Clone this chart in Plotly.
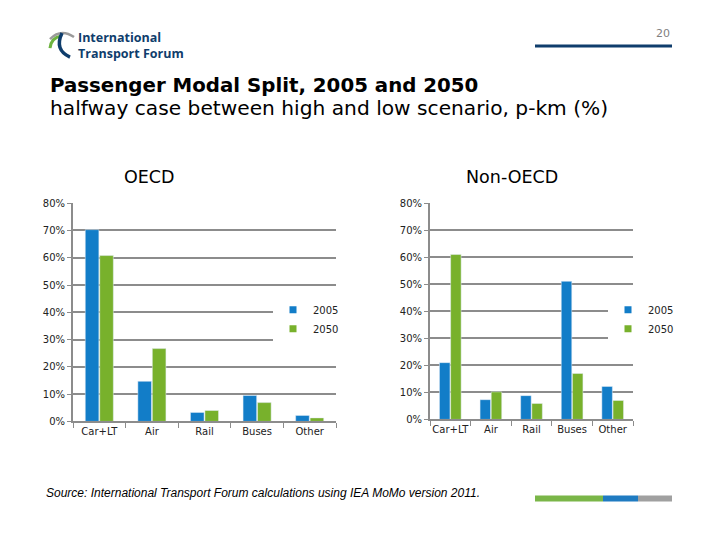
import plotly.graph_objects as go

# ---- data ----
categories = ["Car+LT", "Air", "Rail", "Buses", "Other"]
oecd_2005 = [0.703, 0.147, 0.033, 0.095, 0.022]
oecd_2050 = [0.608, 0.267, 0.040, 0.069, 0.013]
non_oecd_2005 = [0.210, 0.073, 0.088, 0.511, 0.122]
non_oecd_2050 = [0.610, 0.102, 0.059, 0.170, 0.070]
series_names = ["2005", "2050"]
y_ticks = [0, 0.1, 0.2, 0.3, 0.4, 0.5, 0.6, 0.7, 0.8]

BLUE = "#127DC8"
GREEN = "#78B12C"
GRID = "#8C8C8C"
NAVY = "#0F3D6C"
OFF = 8                      # page body margin
W, H = 720 - 2 * OFF, 540 - 2 * OFF
FONT = "DejaVu Sans"
Y0, YS = 13.0, 0.978         # observed vertical placement of the page


def fx(x):
    return (x - OFF) / W


def fy(y):
    return 1 - ((y - Y0) / YS) / H


def px(x, y):
    return fx(x), fy(y)


def path(points, cmd="Q"):
    pts = [px(*p) for p in points]
    return f"M {pts[0][0]:.5f},{pts[0][1]:.5f} {cmd} " + " ".join(f"{a:.5f},{b:.5f}" for a, b in pts[1:])


fig = go.Figure()

fig.add_trace(go.Bar(x=categories, y=oecd_2005, name=series_names[0], marker_color=BLUE,
                     xaxis="x", yaxis="y", showlegend=False))
fig.add_trace(go.Bar(x=categories, y=oecd_2050, name=series_names[1], marker_color=GREEN,
                     xaxis="x", yaxis="y", showlegend=False))
fig.add_trace(go.Bar(x=categories, y=non_oecd_2005, name=series_names[0], marker_color=BLUE,
                     xaxis="x2", yaxis="y2", showlegend=False))
fig.add_trace(go.Bar(x=categories, y=non_oecd_2050, name=series_names[1], marker_color=GREEN,
                     xaxis="x2", yaxis="y2", showlegend=False))

for leg, xa, ya in (("legend", "x", "y"), ("legend2", "x2", "y2")):
    for name, col in zip(series_names, [BLUE, GREEN]):
        fig.add_trace(go.Scatter(x=[None], y=[None], mode="markers", name=name,
                                 marker=dict(symbol="square", size=7, color=col),
                                 xaxis=xa, yaxis=ya, legend=leg, showlegend=True))

axis_common = dict(showgrid=False, showline=True, linecolor=GRID, linewidth=2,
                   ticks="outside", tickcolor=GRID, ticklen=5, tickwidth=1, tickangle=0,
                   tickfont=dict(family=FONT, size=10, color="#222"), fixedrange=True)
yaxis_common = dict(range=[0, 0.8], tickvals=y_ticks, tickformat=".0%", showgrid=True,
                    gridcolor=GRID, gridwidth=2, showline=True, linecolor=GRID, linewidth=2,
                    ticks="outside", tickcolor=GRID, ticklen=4, zeroline=False,
                    tickfont=dict(family=FONT, size=10, color="#222"), fixedrange=True)

legend_common = dict(xanchor="left", yanchor="top", bgcolor="white",
                     font=dict(family=FONT, size=10, color="#222"), borderwidth=0,
                     itemwidth=30, tracegroupgap=0)

fig.update_layout(
    width=W, height=H, autosize=False,
    margin=dict(l=0, r=0, t=0, b=0),
    paper_bgcolor="white", plot_bgcolor="white",
    barmode="group", bargap=0.45, bargroupgap=0.06,
    font=dict(family=FONT, color="#000"),
    xaxis=dict(domain=[fx(73), fx(336)], anchor="y", tickson="boundaries", **axis_common),
    yaxis=dict(domain=[fy(421), fy(203)], anchor="x", **yaxis_common),
    xaxis2=dict(domain=[fx(430), fx(633)], anchor="y2", tickson="boundaries", **axis_common),
    yaxis2=dict(domain=[fy(419), fy(203)], anchor="x2", **yaxis_common),
    legend=dict(x=fx(273), y=fy(295), **legend_common),
    legend2=dict(x=fx(608), y=fy(295), **legend_common),
    showlegend=True,
)

ann = []
ann.append(dict(text="20", x=fx(672), y=fy(33), xanchor="right", yanchor="middle",
                font=dict(family=FONT, size=11, color="#7F7F7F")))
ann.append(dict(text="<b>International<br>Transport Forum</b>", x=fx(76), y=fy(45),
                xanchor="left", yanchor="middle", align="left",
                font=dict(family="Open Sans", size=12.5, color=NAVY)))
ann.append(dict(text="<b>Passenger Modal Split, 2005 and 2050</b>", x=fx(48), y=fy(85),
                xanchor="left", yanchor="middle", font=dict(family=FONT, size=19.8, color="#000")))
ann.append(dict(text="halfway case between high and low scenario, p-km (%)", x=fx(48), y=fy(108),
                xanchor="left", yanchor="middle", font=dict(family=FONT, size=20.2, color="#000")))
ann.append(dict(text="OECD", x=fx(149), y=fy(177), xanchor="center", yanchor="middle",
                font=dict(family=FONT, size=17.5, color="#000")))
ann.append(dict(text="Non-OECD", x=fx(512), y=fy(177), xanchor="center", yanchor="middle",
                font=dict(family=FONT, size=17.5, color="#000")))
ann.append(dict(text="<i>Source: International Transport Forum calculations using IEA MoMo version 2011.</i>",
                x=fx(44), y=fy(493), xanchor="left", yanchor="middle",
                font=dict(family="Liberation Sans", size=12, color="#000")))
for a in ann:
    a.update(xref="paper", yref="paper", showarrow=False)
fig.update_layout(annotations=ann)

shapes = []
shapes.append(dict(type="line", x0=fx(535), y0=fy(46), x1=fx(672), y1=fy(46),
                   line=dict(color=NAVY, width=3)))
for (a, b, c) in ((535, 603, "#7AB648"), (603, 638, "#1F7BC1"), (638, 672, "#A0A0A0")):
    shapes.append(dict(type="rect", x0=fx(a), y0=fy(495), x1=fx(b), y1=fy(501),
                       line=dict(width=0), fillcolor=c))
shapes.append(dict(type="path", path=path([(50, 39), (61, 28), (74, 37)]),
                   line=dict(color="#9A9A9A", width=2.5)))
shapes.append(dict(type="path", path=path([(50, 48), (51, 38), (61, 36)]),
                   line=dict(color="#6DB33F", width=3)))
shapes.append(dict(type="path", path=path([(62, 33), (54, 50), (70, 57)]),
                   line=dict(color=NAVY, width=3.5)))
for s in shapes:
    s.update(xref="paper", yref="paper", layer="above")
fig.update_layout(shapes=shapes)

fig.write_html("out.html")
